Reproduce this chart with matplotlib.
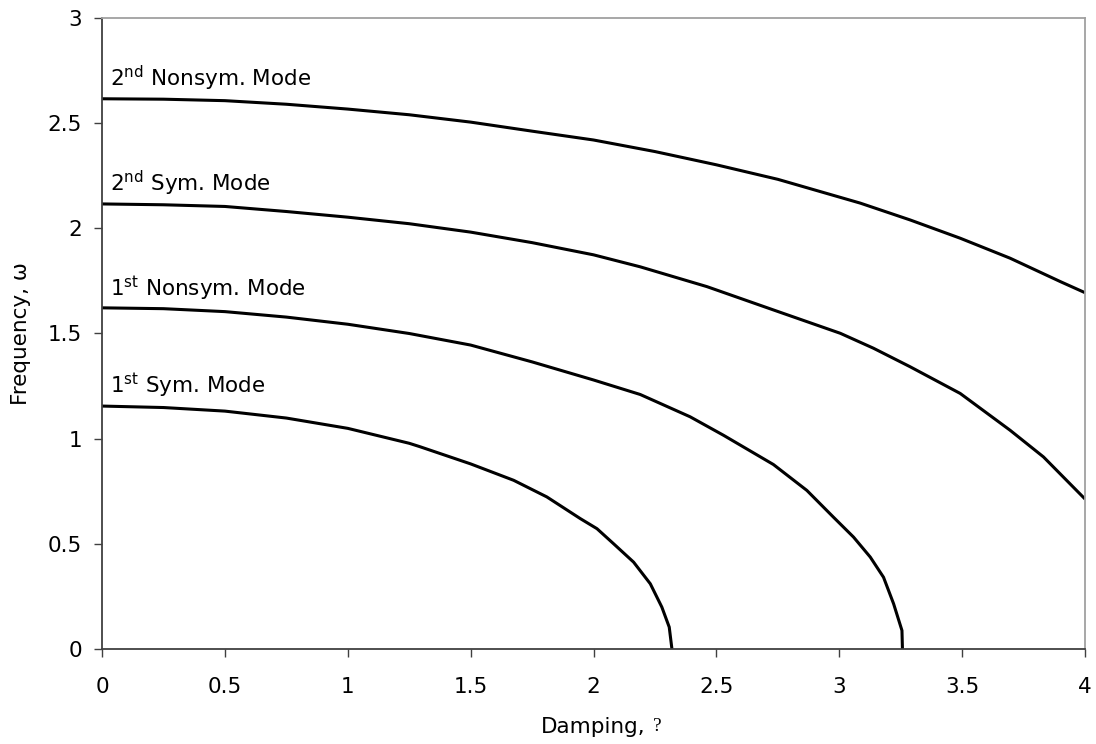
import matplotlib
matplotlib.use("Agg")
import matplotlib.pyplot as plt

plt.rcParams["font.family"] = ["DejaVu Sans"]
plt.rcParams["mathtext.fontset"] = "dejavusans"
plt.rcParams["mathtext.default"] = "regular"

# Damping values and natural frequencies for each mode
sym1_x = [0.0, 0.25, 0.5, 0.75, 1.0, 1.25, 1.293, 1.5, 1.675, 1.810, 1.946, 2.014,
          2.081, 2.163, 2.231, 2.278, 2.308, 2.319]
sym1_y = [1.155, 1.148, 1.131, 1.098, 1.049, 0.978, 0.962, 0.880, 0.802, 0.723, 0.620, 0.572,
          0.501, 0.413, 0.310, 0.199, 0.104, 0.0]

nonsym1_x = [0.0, 0.25, 0.5, 0.75, 1.0, 1.25, 1.5, 1.75, 2.0, 2.190, 2.393, 2.529,
             2.732, 2.868, 2.976, 3.058, 3.126, 3.180, 3.221, 3.255, 3.257]
nonsym1_y = [1.622, 1.618, 1.604, 1.578, 1.544, 1.500, 1.445, 1.365, 1.279, 1.210, 1.104, 1.016,
             0.877, 0.754, 0.627, 0.532, 0.437, 0.341, 0.215, 0.088, 0.0]

sym2_x = [0.0, 0.25, 0.5, 0.75, 1.0, 1.25, 1.5, 1.75, 2.0, 2.19, 2.461, 2.732,
          3.004, 3.139, 3.288, 3.492, 3.695, 3.831, 4.0]
sym2_y = [2.116, 2.112, 2.104, 2.080, 2.053, 2.022, 1.982, 1.932, 1.874, 1.817, 1.723, 1.612,
          1.501, 1.430, 1.342, 1.215, 1.040, 0.913, 0.713]

nonsym2_x = [0.0, 0.25, 0.5, 0.75, 1.0, 1.25, 1.5, 1.75, 2.0, 2.25, 2.5, 2.75,
             3.085, 3.288, 3.492, 3.695, 3.899, 4.0]
nonsym2_y = [2.616, 2.614, 2.607, 2.590, 2.567, 2.540, 2.505, 2.462, 2.420, 2.365, 2.302, 2.233,
             2.120, 2.040, 1.953, 1.858, 1.747, 1.694]

mode_labels = [r"$1^{st}$ Sym. Mode", r"$1^{st}$ Nonsym. Mode",
               r"$2^{nd}$ Sym. Mode", r"$2^{nd}$ Nonsym. Mode"]
label_y = [1.216, 1.679, 2.175, 2.675]

x_ticks = [0, 0.5, 1, 1.5, 2, 2.5, 3, 3.5, 4]
x_ticklabels = ["0", "0.5", "1", "1.5", "2", "2.5", "3", "3.5", "4"]
y_ticks = [0, 0.5, 1, 1.5, 2, 2.5, 3]
y_ticklabels = ["0", "0.5", "1", "1.5", "2", "2.5", "3"]

fig = plt.figure(figsize=(10.96, 7.44), dpi=100)
ax = fig.add_axes([0.0931, 0.1277, 0.8969, 0.8481])

curves = [(sym1_x, sym1_y), (nonsym1_x, nonsym1_y), (sym2_x, sym2_y), (nonsym2_x, nonsym2_y)]
for xs, ys in curves:
    ax.plot(xs, ys, color="black", lw=2.2, solid_capstyle="butt",
            solid_joinstyle="round", clip_on=True)

for text, yy in zip(mode_labels, label_y):
    ax.text(0.034, yy, text, fontsize=15.5, va="baseline", ha="left", color="black")

ax.set_xlim(0, 4)
ax.set_ylim(0, 3)
ax.set_xticks(x_ticks)
ax.set_xticklabels(x_ticklabels)
ax.set_yticks(y_ticks)
ax.set_yticklabels(y_ticklabels)

ax.tick_params(axis="both", direction="out", length=5.5, width=1.0,
               color="#404040", labelsize=15.5, labelcolor="black")
ax.tick_params(axis="x", pad=15)
ax.tick_params(axis="y", pad=9)

for side in ("left", "bottom"):
    ax.spines[side].set_color("#404040")
    ax.spines[side].set_linewidth(1.3)
for side in ("top", "right"):
    ax.spines[side].set_color("#a0a0a0")
    ax.spines[side].set_linewidth(1.3)

xlab = ax.set_xlabel("Damping,", fontsize=15.5, labelpad=14)
ax.set_ylabel("Frequency, \u03c9", fontsize=15.5, labelpad=12)

# the damping symbol falls back to a serif question mark
ax.annotate("?", xy=(1, 0), xycoords=xlab, xytext=(5.5, 4.2),
            textcoords="offset points", ha="left", va="baseline",
            fontsize=14, family="Liberation Serif", color="black")

fig.savefig("out.png", dpi=100)
